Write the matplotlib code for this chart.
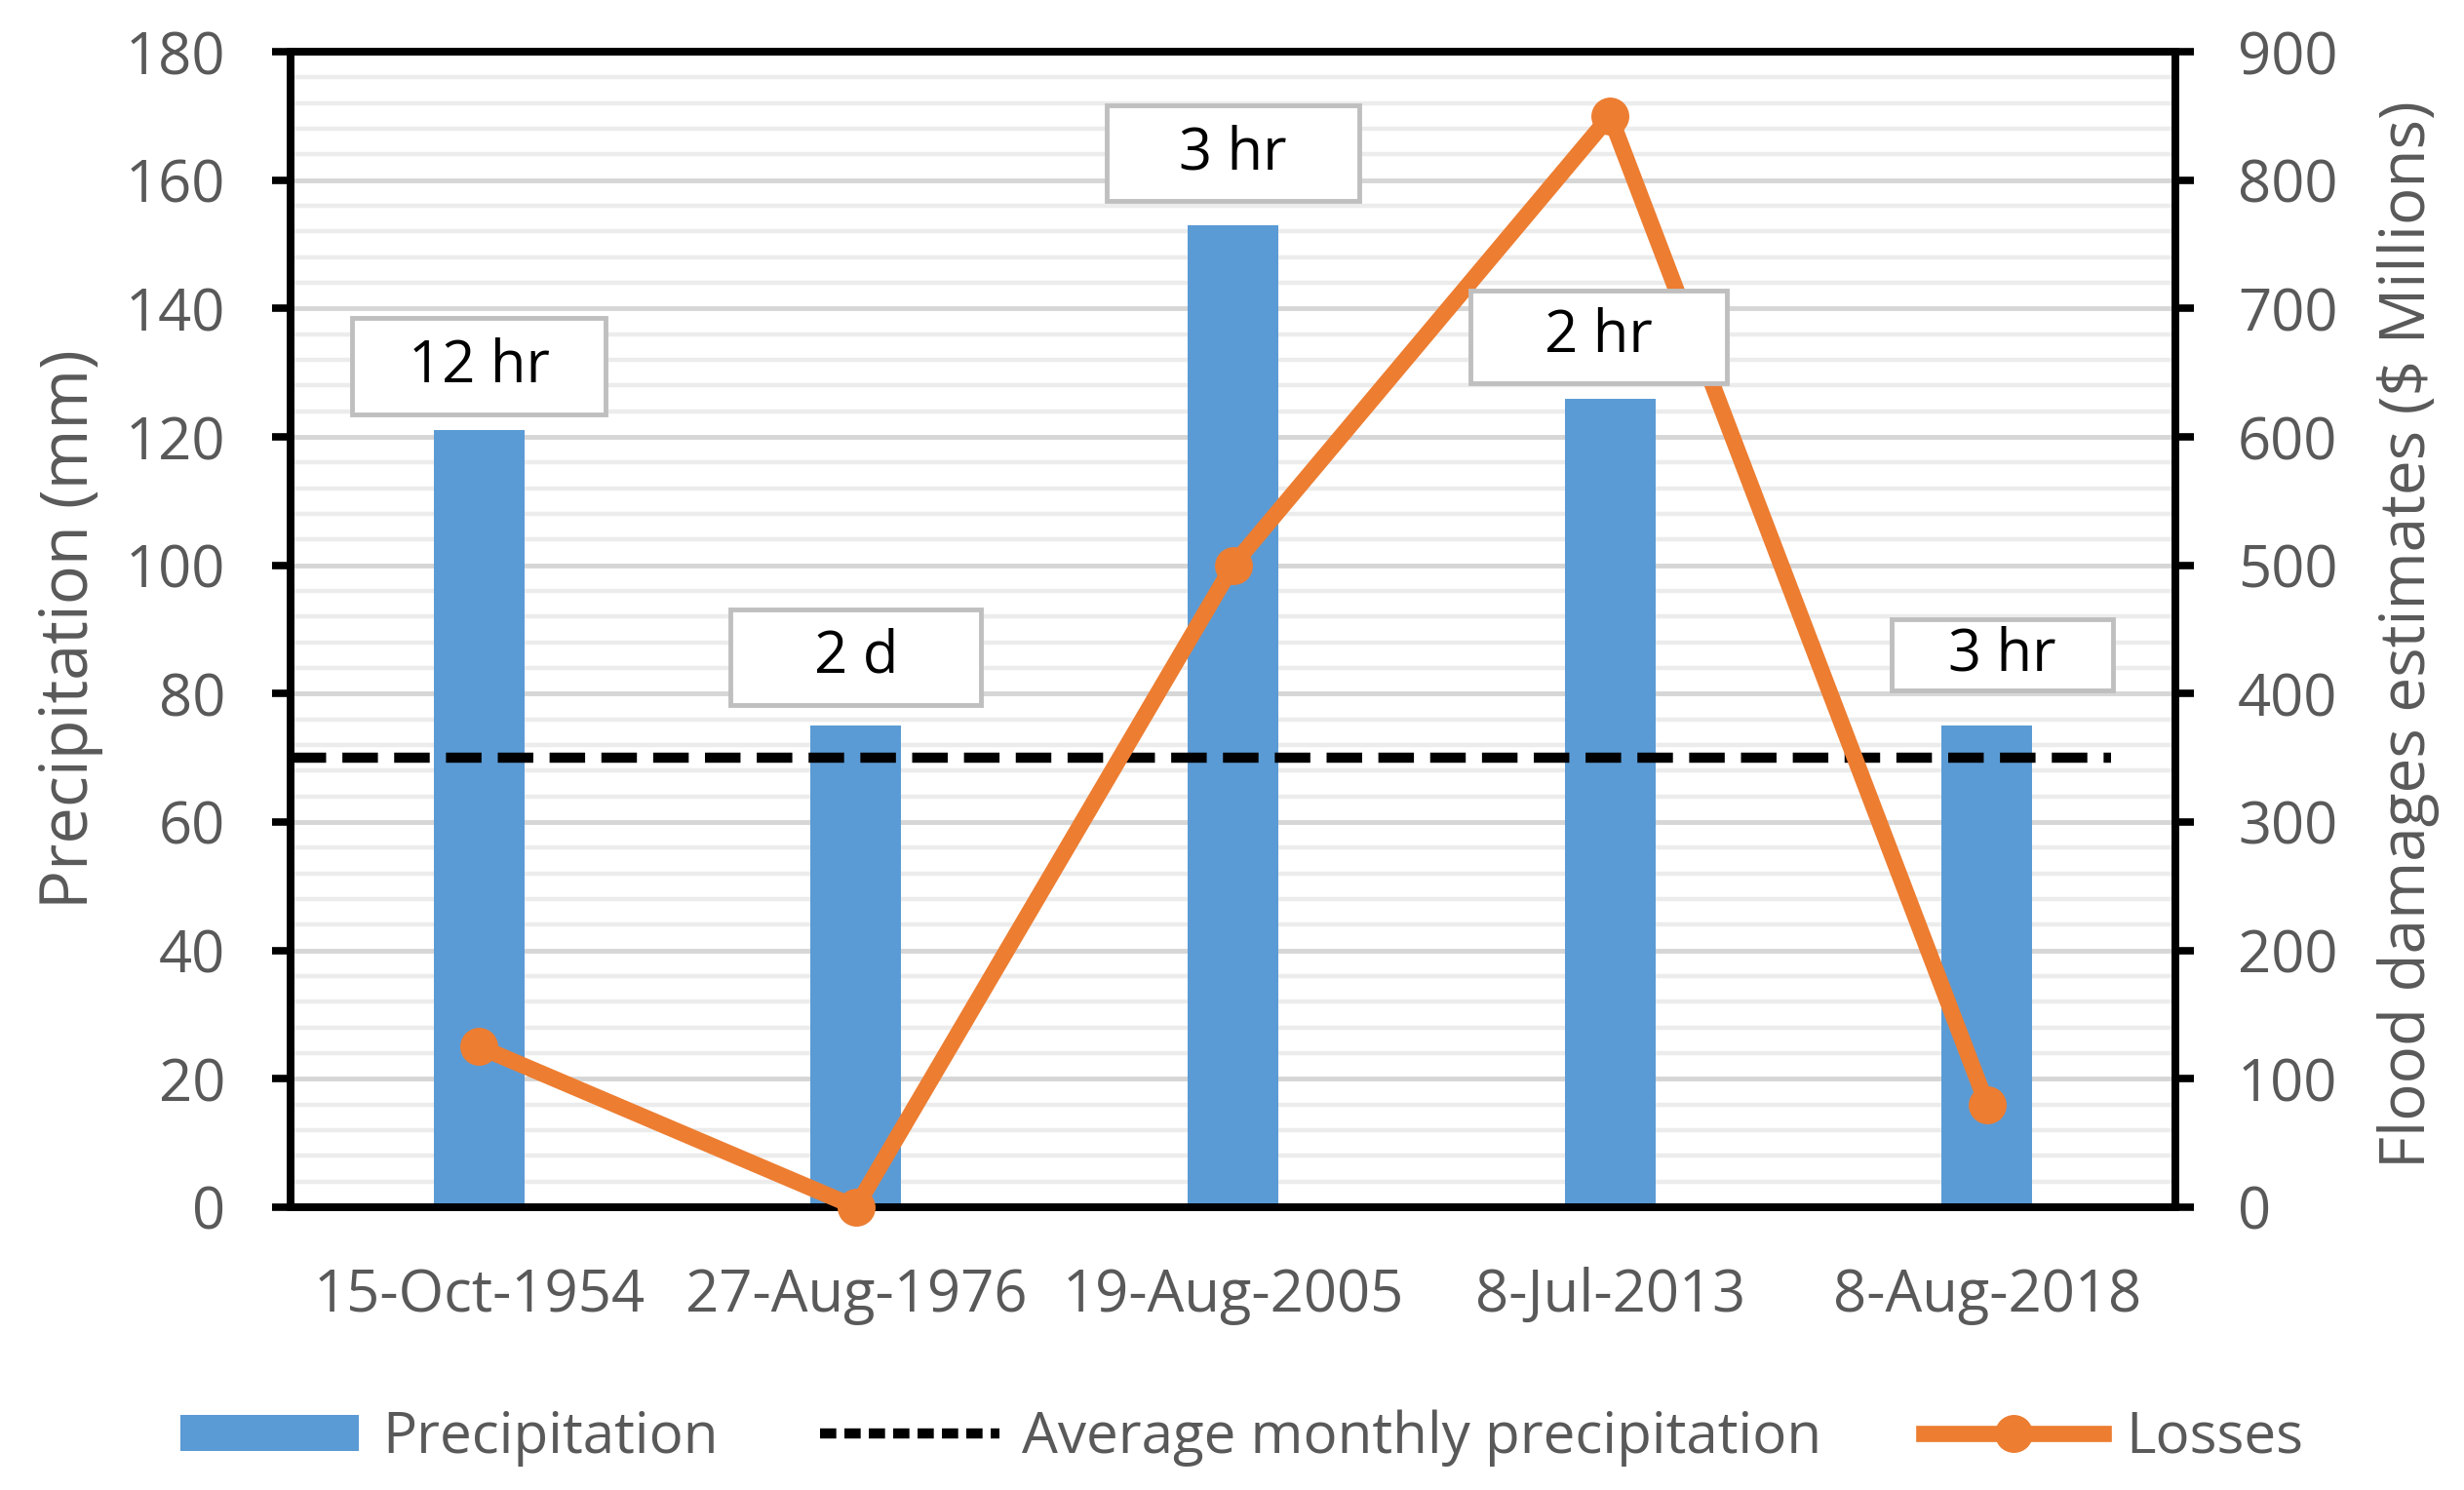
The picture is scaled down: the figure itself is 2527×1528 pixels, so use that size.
import numpy as np
import matplotlib
matplotlib.use("Agg")
import matplotlib.pyplot as plt
from matplotlib.patches import Patch, Rectangle
from matplotlib.lines import Line2D

plt.rcParams['font.family'] = ['Open Sans', 'DejaVu Sans']

# ---- data ----
dates = ["15-Oct-1954", "27-Aug-1976", "19-Aug-2005", "8-Jul-2013", "8-Aug-2018"]
precip_mm = [121, 75, 153, 126, 75]
losses_musd = [125, 0, 500, 850, 80]
avg_monthly_precip = 70
durations = ["12 hr", "2 d", "3 hr", "2 hr", "3 hr"]
label_x_offset = [0.0, 0.0, 0.0, -0.03, 0.04]
label_y_mm = [131, 85.7, 164.2, 135.6, 86.1]
label_w = [0.672, 0.665, 0.67, 0.678, 0.587]
label_h = [15.0, 14.8, 15.0, 14.4, 11.1]

GRAY = '#595959'
BLUE = '#5B9BD5'
ORANGE = '#ED7D31'
FS = 43

fig = plt.figure(figsize=(25.27, 15.28), dpi=100)
ax = fig.add_axes([0.1179, 0.1898, 0.7650, 0.7755])
x = np.arange(len(dates))

ax.set_xlim(-0.5, len(dates) - 0.5)
ax.set_ylim(0, 180)
ax.set_yticks(np.arange(0, 181, 20))
ax.set_yticks(np.arange(0, 181, 4), minor=True)
ax.set_axisbelow(True)
ax.yaxis.grid(True, which='minor', color='#ececec', lw=3.2)
ax.yaxis.grid(True, which='major', color='#d6d6d6', lw=3.5)
ax.xaxis.grid(False)

ax.bar(x, precip_mm, width=0.24, color=BLUE, zorder=2)
ax.plot([-0.5, len(dates) - 0.67], [avg_monthly_precip] * 2, color='black',
        lw=7.5, dashes=(3.5, 1.6), zorder=3, solid_capstyle='butt', dash_capstyle='butt')

ax.set_xticks(x)
ax.set_xticklabels(dates)
ax.tick_params(axis='x', length=0, pad=44, labelsize=FS, labelcolor=GRAY)
ax.tick_params(axis='y', which='major', direction='out', length=14, width=5.5,
               pad=34, labelsize=FS, labelcolor=GRAY)
ax.tick_params(axis='y', which='minor', length=0)
for s in ax.spines.values():
    s.set_linewidth(5.5)
    s.set_color('black')

ax2 = ax.twinx()
ax2.set_ylim(0, 900)
ax2.set_yticks(np.arange(0, 901, 100))
ax2.tick_params(axis='y', direction='out', length=14, width=5.5, pad=32,
                labelsize=FS, labelcolor=GRAY)
for s in ax2.spines.values():
    s.set_linewidth(5.5)
    s.set_color('black')
ax2.plot(x, losses_musd, color=ORANGE, lw=12, marker='o', markersize=27,
         clip_on=False, zorder=4)

# duration labels
for xi, dx, yy, w, h, t in zip(x, label_x_offset, label_y_mm, label_w, label_h, durations):
    cx = xi + dx
    r = Rectangle((cx - w / 2, yy - h / 2), w, h, transform=ax.transData,
                  facecolor='white', edgecolor='#bfbfbf', lw=3.5, zorder=6)
    ax2.add_patch(r)
    ax2.text(cx, yy, t, transform=ax.transData, ha='center', va='center',
             fontsize=FS, color='black', zorder=7)

fig.text(0.0285, 0.578, "Precipitation (mm)", rotation=90, ha='center', va='center',
         fontsize=48, color=GRAY)
fig.text(0.9775, 0.574, "Flood damages estimates ($ Millions)", rotation=90,
         ha='center', va='center', fontsize=46, color=GRAY)

handles = [Patch(facecolor=BLUE, edgecolor='none'),
           Line2D([], [], color='black', lw=7.5, dashes=(1.6, 0.8)),
           Line2D([], [], color=ORANGE, lw=12, marker='o', markersize=27)]
labels = ["Precipitation", "Average monthly precipitation", "Losses"]
fig.legend(handles, labels, loc='center', bbox_to_anchor=(0.504, 0.035), ncol=3,
           frameon=False, fontsize=42, labelcolor=GRAY, handlelength=3.15,
           handleheight=0.6, handletextpad=0.4, columnspacing=1.8)

fig.savefig("out.png", dpi=100)
